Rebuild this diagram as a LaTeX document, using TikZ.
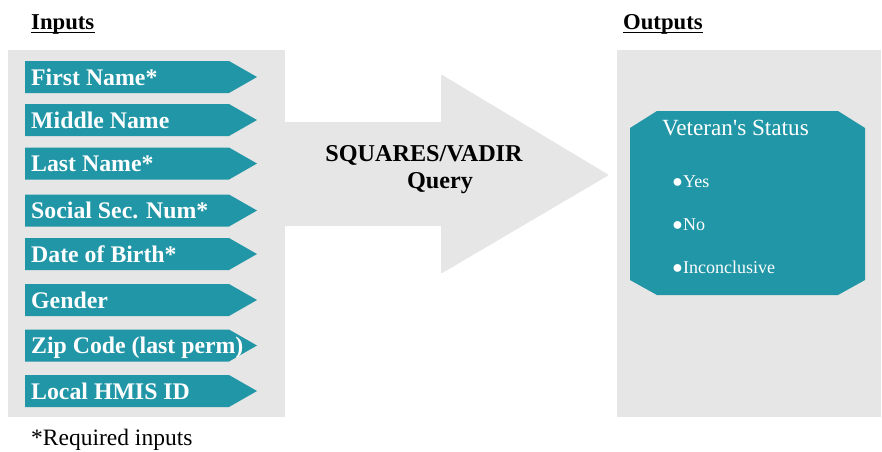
\documentclass[tikz,border=0pt]{standalone}
\usepackage{fontspec}
\setmainfont{Liberation Serif}
\definecolor{tealbox}{HTML}{2196A6}
\definecolor{panelgray}{HTML}{E6E6E6}
\begin{document}
\begin{tikzpicture}[x=1pt,y=-1pt,
  panel/.style={fill=panelgray},
  intext/.style={anchor=base west,inner sep=0pt,text=white,font=\fontsize{23.8}{27}\selectfont\bfseries},
  title/.style={anchor=base west,inner sep=0pt,font=\fontsize{22.7}{26}\selectfont\bfseries},
  uline/.style={line width=1.8pt},
  qtext/.style={anchor=base,inner sep=0pt,font=\fontsize{24.2}{28}\selectfont\bfseries},
  vtext/.style={anchor=base west,inner sep=0pt,text=white,font=\fontsize{23.2}{27}\selectfont},
  btext/.style={anchor=base west,inner sep=0pt,text=white,font=\fontsize{18}{21}\selectfont},
  note/.style={anchor=base west,inner sep=0pt,font=\fontsize{23.5}{27}\selectfont}]
\useasboundingbox (0,0) rectangle (882,451);
% big arrow
\filldraw[panelgray,line width=2pt,line join=round] (280,123) -- (442,123) -- (442,76) -- (607,175) -- (442,272) -- (442,225) -- (280,225) -- cycle;
% panels
\fill[panel] (8,50) rectangle (285,417);
\fill[panel] (617,50) rectangle (881,417);
% titles
\node[title] (inputs) at (31,29) {Inputs};
\node[title] (outputs) at (623,29) {Outputs};
\draw[uline] ([yshift=-3.5pt]inputs.base west) -- ([yshift=-3.5pt]inputs.base east);
\draw[uline] ([yshift=-3.5pt]outputs.base west) -- ([yshift=-3.5pt]outputs.base east);
% input arrows
\foreach \yy/\txt/\nm in {77/{First Name*}/fn,120/{Middle Name}/mn,163.5/{Last Name*}/ln,210.5/{Social Sec. Num*}/ssn,254/{Date of Birth*}/dob,300/{Gender}/gen,345.5/{Zip Code (last perm)}/zip,391/{Local HMIS ID}/hmis}{
  \fill[tealbox] (25,\yy-16) -- (229,\yy-16) -- (257,\yy) -- (229,\yy+16) -- (25,\yy+16) -- cycle;
  \node[intext] (\nm) at (31,\yy+8) {\txt};
}
% query text
\node[qtext] (q1) at (424,161) {SQUARES/VADIR};
\node[qtext] (q2) at (440,188) {Query};
% output box
\fill[tealbox] (657,111) -- (838,111) -- (865,128) -- (865,280) -- (838,295) -- (657,295) -- (630,280) -- (630,128) -- cycle;
\node[vtext] (vs) at (662,135) {Veteran\textquotesingle s Status};
\node[btext] (yes) at (672,187) {●Yes};
\node[btext] (no) at (672,230) {●No};
\node[btext] (inc) at (672,273) {●Inconclusive};
% note
\node[note] (req) at (31,445) {*Required inputs};
\end{tikzpicture}
\end{document}
